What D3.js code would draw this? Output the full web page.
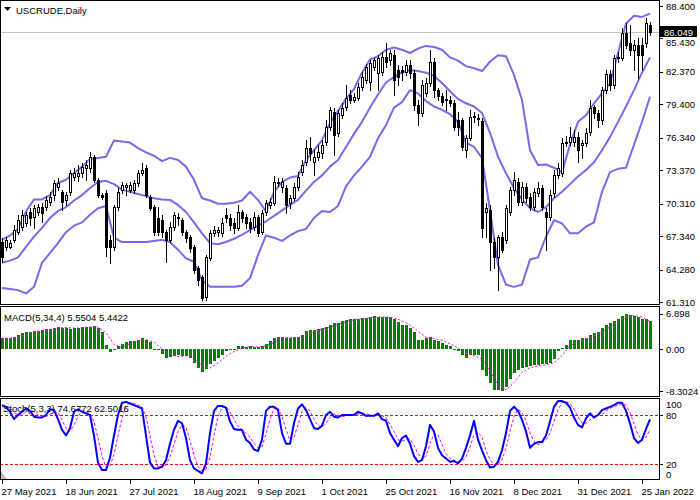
<!DOCTYPE html>
<html>
<head>
<meta charset="utf-8">
<script src="https://d3js.org/d3.v7.min.js"></script>
<style>
  body { margin: 0; background: #fff; }
  svg text { font-family: "Liberation Sans", Arial, sans-serif; font-size: 9.5px; fill: #000; }
</style>
</head>
<body>
<svg id="chart" width="700" height="500"></svg>
<script>
// ---- data ----
var dateLabels = ["27 May 2021", "18 Jun 2021", "27 Jul 2021", "18 Aug 2021", "9 Sep 2021", "1 Oct 2021",
    "25 Oct 2021", "16 Nov 2021", "8 Dec 2021", "31 Dec 2021", "25 Jan 2022"];
var dateBars = [0, 16, 32, 48, 64, 80, 96, 112, 128, 144, 160];

var priceTicks = [88.400, 85.430, 82.370, 79.400, 76.340, 73.370, 70.310, 67.340, 64.280, 61.310];
var lastPrice = 86.049;
var macdTicks = [6.898, 0, -8.3024];
var macdTickLabels = ["6.898", "0.00", "-8.3024"];
var stochTicks = [100, 80, 20, 0];
var stochLevels = [80, 20];

var open = [66.81, 66.35, 66.35, 66.99, 67.72, 68.18, 68.55, 69.55, 69.09, 69.55,
    70.01, 70.01, 70.47, 71.11, 71.84, 71.38, 70.65, 71.38, 72.75, 72.85,
    73.12, 73.58, 73.58, 74.58, 72.48, 71.11, 71.29, 66.99, 66.35, 70.01,
    71.56, 71.84, 71.56, 71.56, 72.21, 73.12, 73.58, 70.92, 70.01, 69.00,
    68.82, 67.72, 66.99, 68.18, 69.09, 68.82, 67.72, 67.26, 66.35, 64.43,
    63.60, 61.77, 65.34, 67.63, 67.72, 67.63, 69.28, 69.00, 68.55, 68.09,
    69.55, 69.09, 68.64, 68.18, 69.09, 67.72, 69.55, 70.19, 70.38, 72.30,
    71.84, 71.75, 70.38, 70.83, 71.84, 73.21, 74.13, 75.41, 74.13, 74.58,
    74.95, 75.96, 77.33, 78.70, 76.78, 78.43, 79.16, 80.26, 79.80, 79.98,
    80.99, 81.63, 81.45, 82.82, 82.27, 82.36, 83.73, 83.46, 83.92, 82.54,
    82.54, 82.36, 83.00, 82.27, 79.34, 78.61, 80.44, 81.36, 83.28, 80.71,
    80.17, 79.89, 79.80, 79.53, 77.97, 77.97, 75.22, 76.32, 78.24, 78.15,
    77.88, 69.55, 69.73, 66.81, 65.43, 67.26, 66.99, 69.55, 71.56, 72.30,
    70.47, 71.84, 70.92, 70.01, 71.29, 71.75, 69.55, 69.09, 71.29, 72.94,
    73.12, 75.87, 75.96, 75.96, 76.41, 75.68, 75.87, 76.87, 79.16, 78.61,
    77.97, 80.71, 82.18, 81.17, 83.64, 83.64, 85.93, 85.02, 84.37, 84.83,
    84.83, 85.02, 86.66];

var high = [67.17, 67.26, 66.99, 68.36, 69.28, 69.73, 69.55, 69.92, 70.19, 70.28,
    70.38, 71.02, 71.38, 72.48, 72.66, 71.56, 71.38, 73.39, 73.58, 73.85,
    74.04, 74.31, 75.04, 74.77, 72.66, 71.29, 71.56, 67.45, 70.19, 71.75,
    72.30, 72.21, 72.30, 72.48, 73.39, 74.04, 73.85, 71.11, 70.19, 70.01,
    69.28, 67.90, 68.64, 69.55, 69.46, 69.00, 67.90, 67.45, 66.53, 64.61,
    63.79, 65.62, 67.90, 68.27, 68.18, 69.00, 69.92, 69.37, 69.00, 70.19,
    69.73, 69.37, 69.00, 69.55, 69.28, 69.73, 70.65, 70.83, 72.85, 72.66,
    72.66, 72.02, 71.11, 72.21, 73.21, 74.31, 76.14, 76.41, 75.22, 75.68,
    76.14, 77.97, 79.16, 79.07, 78.88, 79.53, 81.17, 80.71, 80.44, 81.36,
    82.36, 83.09, 83.46, 83.64, 83.92, 84.19, 85.02, 84.37, 84.37, 83.00,
    82.91, 83.46, 83.46, 82.54, 79.80, 81.63, 81.81, 84.37, 83.64, 80.90,
    80.44, 80.71, 80.17, 79.80, 78.70, 78.15, 76.60, 78.88, 78.70, 78.52,
    78.15, 70.38, 70.19, 67.17, 67.45, 67.72, 70.19, 71.84, 73.21, 72.66,
    72.30, 72.21, 71.29, 71.75, 72.30, 72.02, 69.92, 71.56, 73.39, 74.04,
    76.32, 76.51, 77.33, 77.05, 76.87, 76.14, 77.24, 79.80, 79.34, 78.88,
    80.99, 82.54, 82.54, 83.92, 84.19, 86.39, 86.85, 86.66, 85.29, 85.47,
    85.47, 87.30, 86.94];

var low = [64.98, 66.07, 66.26, 66.81, 67.54, 67.90, 68.27, 68.36, 68.09, 69.28,
    68.64, 69.73, 70.19, 70.65, 71.56, 69.73, 70.19, 71.11, 72.48, 72.39,
    72.75, 72.48, 73.21, 72.30, 70.92, 70.74, 65.53, 64.89, 66.07, 69.73,
    71.29, 71.11, 71.38, 71.29, 71.93, 72.94, 70.92, 69.73, 67.45, 67.45,
    67.26, 64.98, 66.81, 67.90, 68.36, 67.45, 66.81, 65.89, 63.97, 62.87,
    61.50, 61.50, 65.16, 67.36, 67.36, 67.36, 68.64, 67.90, 67.63, 67.90,
    68.64, 68.09, 67.72, 67.90, 67.36, 67.54, 69.28, 69.92, 70.19, 71.93,
    71.38, 69.46, 69.92, 70.65, 71.56, 72.94, 73.85, 74.31, 72.94, 74.31,
    74.49, 75.68, 77.05, 74.77, 76.51, 78.15, 78.88, 79.53, 79.62, 79.80,
    80.71, 81.36, 80.71, 82.54, 80.71, 82.09, 82.82, 83.00, 80.26, 81.17,
    81.63, 82.09, 81.81, 78.88, 77.51, 78.34, 80.17, 81.08, 80.07, 79.80,
    79.34, 78.88, 79.25, 77.05, 76.60, 75.22, 74.58, 76.14, 77.79, 77.51,
    67.26, 67.26, 64.24, 64.43, 62.41, 65.89, 66.72, 69.28, 71.11, 70.19,
    70.19, 70.47, 69.73, 69.73, 71.02, 69.73, 66.07, 68.82, 70.92, 72.66,
    72.85, 75.59, 75.68, 75.59, 74.13, 74.49, 75.59, 76.60, 78.15, 77.33,
    77.60, 80.44, 80.71, 80.90, 83.28, 83.46, 84.56, 83.92, 82.54, 81.81,
    82.54, 84.65, 85.75];

var close = [65.43, 66.99, 66.72, 67.90, 68.82, 69.28, 69.28, 69.00, 69.92, 70.01,
    69.46, 70.65, 70.92, 72.21, 72.21, 70.47, 71.11, 73.12, 73.12, 73.12,
    73.67, 73.85, 74.58, 72.48, 71.11, 70.92, 66.35, 66.35, 70.01, 71.38,
    72.02, 72.02, 72.02, 72.21, 73.12, 73.39, 71.11, 69.92, 67.72, 67.72,
    67.72, 66.99, 68.18, 69.28, 69.00, 67.72, 67.17, 66.26, 64.24, 63.33,
    61.68, 65.43, 67.63, 67.90, 67.90, 68.55, 69.00, 68.36, 68.09, 69.55,
    69.00, 68.55, 68.09, 69.09, 67.63, 69.46, 70.38, 70.47, 72.30, 72.21,
    72.30, 70.19, 70.83, 71.84, 72.75, 73.85, 75.41, 74.95, 74.58, 75.04,
    75.68, 77.33, 78.88, 76.60, 78.61, 79.07, 79.98, 79.80, 80.07, 80.99,
    81.90, 82.82, 83.19, 83.46, 83.64, 83.73, 83.28, 84.10, 81.63, 81.90,
    82.36, 83.00, 82.27, 79.34, 78.61, 81.17, 81.36, 83.28, 80.71, 80.17,
    79.62, 79.80, 79.53, 77.33, 77.33, 75.50, 76.32, 78.24, 78.30, 78.10,
    68.09, 69.92, 66.81, 65.43, 67.26, 66.07, 69.92, 71.56, 72.48, 70.47,
    71.84, 70.83, 70.01, 71.38, 71.75, 70.01, 69.09, 71.11, 72.94, 73.58,
    75.87, 75.96, 76.41, 76.41, 75.22, 75.87, 76.78, 79.07, 78.61, 77.97,
    80.71, 82.18, 81.17, 83.64, 83.73, 85.93, 84.83, 84.37, 84.83, 83.92,
    83.92, 86.85, 86.049];

// Bollinger bands, read every second bar
var bbUpper = [67.0, 67.4, 68.0, 69.6, 70.7, 70.7, 71.1, 72.2, 72.5, 73.1,
    73.7, 74.4, 74.5, 74.6, 76.1, 76.0, 75.9, 75.4, 75.0, 74.7,
    74.2, 74.5, 74.3, 73.7, 72.5, 70.8, 70.6, 70.3, 70.3, 70.4,
    70.6, 71.4, 70.65, 69.6, 71.4, 72.3, 72.7, 72.85, 74.3, 75.2,
    76.1, 77.7, 78.8, 79.9, 80.8, 82.3, 83.5, 83.8, 84.4, 84.6,
    84.4, 84.1, 84.5, 84.75, 84.65, 84.4, 83.7, 83.4, 82.9, 82.7,
    82.45, 83.3, 83.9, 83.8, 82.1, 79.8, 75.2, 73.85, 73.9, 73.6,
    73.2, 75.7, 77.8, 78.4, 79.5, 80.4, 81.3, 84.1, 86.8, 87.5,
    87.4, 87.7];
var bbMiddle = [64.9, 65.1, 65.4, 66.35, 67.3, 68.1, 69.0, 69.65, 70.0, 70.6,
    71.1, 71.75, 72.3, 72.4, 72.1, 71.6, 71.4, 71.2, 71.0, 70.8,
    70.7, 70.65, 70.2, 69.55, 68.6, 67.6, 66.7, 66.6, 66.8, 67.1,
    67.45, 67.9, 68.3, 68.7, 69.2, 69.7, 70.2, 70.65, 71.5, 72.3,
    72.9, 73.7, 74.3, 75.5, 76.7, 77.8, 79.1, 80.3, 81.4, 81.9,
    82.3, 82.55, 82.45, 82.3, 82.0, 81.35, 80.6, 79.9, 79.5, 79.2,
    78.6, 76.8, 74.6, 73.1, 71.75, 70.7, 69.9, 69.55, 70.0, 70.8,
    71.4, 72.1, 72.8, 73.4, 74.1, 75.2, 76.4, 77.8, 79.2, 80.7,
    82.3, 83.7];
var bbLower = [62.6, 62.5, 62.4, 62.1, 62.7, 64.9, 65.8, 66.7, 67.7, 68.3,
    68.6, 69.3, 69.9, 70.1, 67.2, 66.8, 66.8, 66.8, 66.8, 66.9,
    67.0, 66.8, 66.1, 65.3, 65.0, 63.3, 62.7, 62.7, 62.7, 62.7,
    62.8, 63.5, 65.6, 67.4, 67.2, 66.9, 67.4, 67.8, 68.0, 69.0,
    69.65, 69.55, 70.1, 71.9, 72.9, 73.7, 74.6, 76.3, 77.5, 79.1,
    79.6, 80.7, 80.4, 79.7, 79.2, 78.9, 78.5, 77.8, 75.9, 75.5,
    74.5, 69.7, 64.7, 62.9, 62.7, 62.9, 65.2, 65.4, 67.3, 68.8,
    68.5, 67.6, 67.6, 68.2, 68.6, 71.4, 73.2, 73.5, 73.6, 75.7,
    77.8, 80.1];

var macdHist = [2.10, 2.13, 2.13, 2.45, 2.77, 3.10, 3.29, 3.42, 3.55, 3.55,
    3.74, 3.87, 3.94, 4.19, 4.39, 4.19, 4.19, 3.94, 4.06, 4.19,
    4.39, 4.39, 4.39, 4.52, 4.06, 3.42, 0.84, -0.65, 0.05, 0.52,
    0.97, 1.35, 1.48, 1.61, 1.81, 2.13, 1.81, 1.35, 0.05, -0.26,
    -0.90, -1.81, -1.61, -1.29, -1.23, -1.42, -1.42, -1.74, -2.84, -3.68,
    -4.45, -3.87, -3.03, -2.39, -1.74, -1.10, -0.45, -0.26, -0.13, 0.52,
    0.52, 0.39, 0.52, 0.39, 0.39, 0.52, 0.97, 1.48, 2.13, 2.45,
    2.45, 2.13, 2.13, 2.26, 2.26, 2.77, 3.61, 3.74, 3.74, 3.87,
    4.06, 4.39, 4.71, 5.03, 5.16, 5.48, 5.68, 5.81, 5.87, 5.87,
    6.00, 6.13, 6.32, 6.45, 6.32, 6.19, 6.19, 6.19, 5.87, 5.35,
    4.71, 4.71, 4.06, 3.42, 1.81, 1.81, 2.13, 2.45, 1.81, 1.48,
    1.16, 0.84, 0.52, -0.13, -0.45, -1.10, -1.74, -1.23, -1.23, -1.23,
    -4.13, -5.29, -6.71, -8.06, -8.06, -8.3024, -7.55, -5.94, -4.65, -4.19,
    -3.68, -3.48, -3.35, -3.23, -3.23, -3.03, -3.03, -2.84, -1.94, -0.45,
    0.19, 0.84, 1.81, 1.81, 1.81, 2.13, 2.13, 2.77, 3.10, 3.42,
    4.06, 4.71, 5.03, 5.55, 5.87, 6.45, 6.898, 6.58, 6.45, 6.19,
    5.81, 5.87, 5.5504];
// MACD signal, read every second bar
var macdSignal = [2.10, 2.12, 2.37, 2.90, 3.34, 3.57, 3.78, 4.10, 4.24, 4.10,
    4.15, 4.34, 4.34, 3.21, 0.92, 0.22, 1.08, 1.56, 1.84, 1.34,
    0.06, -1.15, -1.49, -1.34, -1.86, -3.18, -3.76, -2.76, -1.42, -0.49,
    0.16, 0.49, 0.42, 0.57, 1.28, 2.13, 2.29, 2.20, 2.73, 3.47,
    3.85, 4.26, 4.82, 5.34, 5.71, 5.89, 6.08, 6.31, 6.29, 6.11,
    5.53, 4.71, 3.50, 2.29, 2.05, 1.73, 1.00, 0.20, -0.86, -1.33,
    -1.96, -4.34, -7.03, -7.99, -6.61, -4.62, -3.68, -3.32, -3.13, -2.71,
    -1.26, 0.60, 1.57, 1.97, 2.53, 3.34, 4.31, 5.29, 6.19, 6.60,
    6.26, 5.4422];

var stochMain = [92, 90, 84, 75, 80, 84, 88, 85, 78, 77,
    77, 80, 87, 86, 75, 62, 55, 64, 84, 87,
    84, 82, 80, 55, 22, 13, 13, 28, 55, 80,
    95, 96, 94, 92, 90, 88, 55, 22, 15, 15,
    17, 25, 45, 62, 73, 70, 52, 25, 15, 12,
    9, 21, 58, 85, 91, 91, 89, 72, 63, 62,
    62, 50, 46, 38, 36, 50, 85, 90, 90, 86,
    58, 45, 45, 70, 88, 93, 86, 75, 64, 63,
    67, 80, 84, 78, 77, 80, 80, 80, 80, 84,
    82, 79, 79, 79, 82, 75, 73, 58, 50, 42,
    52, 55, 45, 30, 23, 25, 42, 68, 60, 40,
    31, 27, 23, 24, 21, 27, 40, 55, 73, 50,
    37, 25, 16, 17, 23, 37, 58, 85, 90, 85,
    74, 60, 40, 45, 47, 47, 55, 72, 90, 97,
    97, 95, 89, 77, 68, 65, 76, 82, 77, 80,
    86, 88, 90, 92, 95, 95, 85, 70, 52, 46,
    50, 63, 74.6772];
var stochSignal = [90, 90, 89, 83, 80, 80, 84, 86, 84, 80,
    77, 78, 81, 84, 83, 74, 64, 60, 68, 78,
    85, 84, 82, 72, 52, 30, 16, 18, 32, 54,
    77, 90, 95, 94, 92, 90, 78, 55, 31, 17,
    16, 19, 29, 44, 60, 68, 65, 49, 31, 17,
    12, 14, 29, 55, 78, 89, 90, 84, 75, 66,
    62, 58, 53, 45, 40, 41, 57, 75, 88, 89,
    78, 63, 49, 53, 68, 84, 89, 85, 75, 67,
    65, 70, 77, 81, 80, 78, 79, 80, 80, 81,
    82, 82, 80, 79, 80, 79, 77, 69, 60, 50,
    48, 50, 51, 43, 33, 26, 30, 45, 57, 56,
    44, 33, 27, 25, 23, 24, 29, 41, 56, 59,
    53, 37, 26, 19, 19, 26, 39, 60, 78, 87,
    83, 73, 58, 48, 44, 46, 50, 58, 72, 86,
    95, 96, 94, 87, 78, 70, 70, 74, 78, 80,
    81, 85, 88, 90, 92, 94, 92, 83, 69, 56,
    49, 53, 62.5016];

// ---- layout ----
var plotR = 659;
var pricePanel = { top: 0, bottom: 304 };
var macdPanel = { top: 306, bottom: 396 };
var stochPanel = { top: 398, bottom: 479 };

var svg = d3.select("#chart");
svg.append("rect").attr("width", 700).attr("height", 500).attr("fill", "#fff");

var bars = d3.range(close.length);
var bandIdx = d3.range(0, close.length, 2);

var x = d3.scaleLinear().domain([0, 162]).range([2, 650]);
var yP = d3.scaleLinear().domain([61.13, 88.95]).range([pricePanel.bottom, pricePanel.top]);
var yM = d3.scaleLinear().domain([-9.22, 8.24]).range([macdPanel.bottom, 307]);
var yS = d3.scaleLinear().domain([0, 100]).range([480.7, 398.6]);

var defs = svg.append("defs");
[["clipP", pricePanel], ["clipM", macdPanel], ["clipS", stochPanel]].forEach(function (c) {
    defs.append("clipPath").attr("id", c[0]).append("rect")
        .attr("x", 1).attr("y", c[1].top + 1)
        .attr("width", plotR - 1).attr("height", c[1].bottom - c[1].top - 1);
});

// ---- price panel ----
var gP = svg.append("g").attr("clip-path", "url(#clipP)");

gP.append("line")
    .attr("x1", 0).attr("x2", plotR)
    .attr("y1", Math.round(yP(lastPrice)) + 0.5).attr("y2", Math.round(yP(lastPrice)) + 0.5)
    .attr("stroke", "#c0c0c0");

var bandLine = d3.line()
    .x(function (d, k) { return x(bandIdx[k]); })
    .y(function (d) { return yP(d); });

[bbUpper, bbMiddle, bbLower].forEach(function (band) {
    gP.append("path")
        .datum(band)
        .attr("fill", "none")
        .attr("stroke", "#7b68ee")
        .attr("stroke-width", 2)
        .attr("stroke-linejoin", "round")
        .attr("d", bandLine);
});

var gC = gP.append("g").attr("shape-rendering", "crispEdges");

gC.selectAll("line.wick").data(bars).join("line")
    .attr("class", "wick")
    .attr("x1", function (i) { return Math.round(x(i)) + 0.5; })
    .attr("x2", function (i) { return Math.round(x(i)) + 0.5; })
    .attr("y1", function (i) { return Math.round(yP(high[i])); })
    .attr("y2", function (i) { return Math.round(yP(low[i])) + 1; })
    .attr("stroke", "#000");

gC.selectAll("path.body").data(bars).join("path")
    .attr("class", "body")
    .attr("d", function (i) {
        var x0 = Math.round(x(i)) - 0.5;
        var yt = Math.round(yP(Math.max(open[i], close[i]))) + 0.5;
        var yb = Math.round(yP(Math.min(open[i], close[i]))) + 0.5;
        return "M" + x0 + "," + yt + "h2V" + yb + "h-2Z";
    })
    .attr("fill", function (i) { return close[i] >= open[i] ? "#fff" : "#000"; })
    .attr("stroke", "#000");

// ---- MACD panel ----
var gM = svg.append("g").attr("clip-path", "url(#clipM)");

gM.selectAll("rect").data(bars).join("rect")
    .attr("shape-rendering", "crispEdges")
    .attr("x", function (i) { return Math.round(x(i)) - 1; })
    .attr("width", 3)
    .attr("y", function (i) { return Math.round(Math.min(yM(macdHist[i]), yM(0))); })
    .attr("height", function (i) { return Math.max(1, Math.round(Math.abs(yM(macdHist[i]) - yM(0)))); })
    .attr("fill", "#008000");

gM.append("path")
    .datum(macdSignal)
    .attr("fill", "none")
    .attr("stroke", "#ff00ff")
    .attr("stroke-width", 1)
    .attr("stroke-dasharray", "2,2")
    .attr("d", d3.line()
        .x(function (d, k) { return x(bandIdx[k]); })
        .y(function (d) { return yM(d); }));

// ---- Stochastic panel ----
var gS = svg.append("g").attr("clip-path", "url(#clipS)");

gS.selectAll("line.level").data(stochLevels).join("line")
    .attr("class", "level")
    .attr("x1", 0).attr("x2", plotR)
    .attr("y1", function (d) { return Math.round(yS(d)) + 0.5; })
    .attr("y2", function (d) { return Math.round(yS(d)) + 0.5; })
    .attr("stroke", "#ff0000")
    .attr("stroke-dasharray", "3,2");

gS.append("path")
    .datum(stochSignal)
    .attr("fill", "none")
    .attr("stroke", "#ff00ff")
    .attr("stroke-width", 1)
    .attr("stroke-dasharray", "3,2")
    .attr("d", d3.line().x(function (d, i) { return x(i); }).y(function (d) { return yS(d); }));

gS.append("path")
    .datum(stochMain)
    .attr("fill", "none")
    .attr("stroke", "#0000ff")
    .attr("stroke-width", 2)
    .attr("stroke-linejoin", "round")
    .attr("d", d3.line().x(function (d, i) { return x(i); }).y(function (d) { return yS(d); }));

svg.append("path")
    .attr("d", "M1," + (stochPanel.bottom - 8) + "L1," + stochPanel.bottom + "L7," + stochPanel.bottom + "Z")
    .attr("fill", "#c0c0c0");

// ---- panel frames ----
[pricePanel, macdPanel, stochPanel].forEach(function (p) {
    svg.append("rect")
        .attr("x", 0.5).attr("y", p.top + 0.5)
        .attr("width", plotR).attr("height", p.bottom - p.top)
        .attr("fill", "none").attr("stroke", "#000")
        .attr("shape-rendering", "crispEdges");
});

// ---- right axes ----
function tickMark(y) {
    svg.append("line")
        .attr("x1", plotR + 1).attr("x2", plotR + 4)
        .attr("y1", Math.round(y) + 0.5).attr("y2", Math.round(y) + 0.5)
        .attr("stroke", "#000").attr("shape-rendering", "crispEdges");
}

var yLast = Math.round(yP(lastPrice));

priceTicks.forEach(function (v) {
    var ty = yP(v);
    tickMark(ty);
    // keep the label clear of the current-price box
    if (Math.abs(ty - yLast) < 10) ty = ty > yLast ? yLast + 10 : yLast - 10;
    svg.append("text")
        .attr("x", plotR + 7).attr("y", ty)
        .attr("dominant-baseline", "central")
        .text(v.toFixed(3));
});

svg.append("rect")
    .attr("x", plotR + 1).attr("y", yLast - 6)
    .attr("width", 37).attr("height", 11)
    .attr("fill", "#000");
svg.append("text")
    .attr("x", plotR + 5).attr("y", yLast)
    .attr("dominant-baseline", "central")
    .style("fill", "#fff")
    .text(lastPrice.toFixed(3));

macdTicks.forEach(function (v, k) {
    tickMark(yM(v));
    svg.append("text")
        .attr("x", plotR + 7).attr("y", yM(v))
        .attr("dominant-baseline", "central")
        .text(macdTickLabels[k]);
});

stochTicks.forEach(function (v) {
    var y = Math.min(Math.max(yS(v), stochPanel.top + 6), stochPanel.bottom - 5);
    if (v === 80 || v === 20) tickMark(yS(v));
    svg.append("text")
        .attr("x", plotR + 7).attr("y", y)
        .attr("dominant-baseline", "central")
        .text(String(v));
});

// ---- date axis ----
dateBars.forEach(function (b, k) {
    var xx = Math.round(x(b)) + 0.5;
    svg.append("line")
        .attr("x1", xx).attr("x2", xx)
        .attr("y1", stochPanel.bottom + 1).attr("y2", stochPanel.bottom + 5)
        .attr("stroke", "#000").attr("shape-rendering", "crispEdges");
    svg.append("text")
        .attr("x", xx - 1).attr("y", 491)
        .attr("dominant-baseline", "central")
        .text(dateLabels[k]);
});

// ---- titles ----
svg.append("path").attr("d", "M4,7L11,7L7.5,11Z").attr("fill", "#000");
svg.append("text").attr("x", 16).attr("y", 10).attr("dominant-baseline", "central").text("USCRUDE,Daily");
svg.append("text").attr("x", 4).attr("y", 317).attr("dominant-baseline", "central")
    .text("MACD(5,34,4) " + macdHist[macdHist.length - 1].toFixed(4) + " " + macdSignal[macdSignal.length - 1].toFixed(4));
svg.append("text").attr("x", 3).attr("y", 408).attr("dominant-baseline", "central")
    .text("Stoch(5,3,3) " + stochMain[stochMain.length - 1].toFixed(4) + " " + stochSignal[stochSignal.length - 1].toFixed(4));
</script>
</body>
</html>
